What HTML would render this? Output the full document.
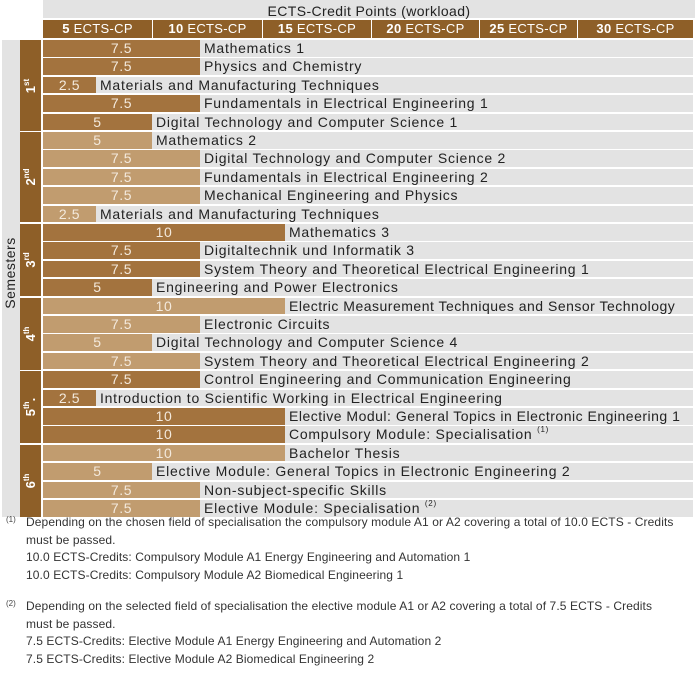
<!DOCTYPE html>
<html><head><meta charset="utf-8"><style>
body{margin:0;width:695px;height:674px;background:#fff;font-family:"Liberation Sans",sans-serif;position:relative;overflow:hidden}
.a{position:absolute}
.hd{position:absolute;top:20px;height:18px;background:#8e5f28;color:#fff;font-size:13px;line-height:18px;text-align:center;letter-spacing:0.3px}
.row{position:absolute;left:43px;width:650px;height:16.5px;background:#e3e3e3}
.bar{position:absolute;left:0;top:0;height:16.5px;color:#f3e9dc;font-size:14px;line-height:17px;text-align:center;letter-spacing:0.6px}
.d{background:#a3733e}.l{background:#c19c6f}
.t{position:absolute;top:0;height:16.5px;font-size:14px;line-height:17px;color:#222;letter-spacing:0.75px;white-space:nowrap}
.sem{position:absolute;left:20px;width:21px;background:#8e5f28}
.sl{position:absolute;left:-20px;width:61px;top:50%;transform:translateY(-50%) rotate(-90deg);color:#fff;font-weight:bold;font-size:13px;text-align:center}
.sl sup{font-size:8px}
.fn{position:absolute;left:26px;font-size:12px;color:#333;line-height:17.5px;letter-spacing:0.1px}
.fs{position:absolute;left:6px;font-size:8px;color:#444}
sup{font-size:8px;vertical-align:top;line-height:0;position:relative;top:4px}
</style></head><body>
<div class="a" style="left:43px;top:0;width:652px;height:18px;background:#e3e3e3;font-size:14px;line-height:22px;text-align:center;color:#222;letter-spacing:0.4px">ECTS-Credit Points (workload)</div>
<div class="hd" style="left:43px;width:109px"><b>5</b> ECTS-CP</div>
<div class="hd" style="left:153px;width:109px"><b>10</b> ECTS-CP</div>
<div class="hd" style="left:263px;width:108px"><b>15</b> ECTS-CP</div>
<div class="hd" style="left:372px;width:107px"><b>20</b> ECTS-CP</div>
<div class="hd" style="left:480px;width:97px"><b>25</b> ECTS-CP</div>
<div class="hd" style="left:578px;width:115px"><b>30</b> ECTS-CP</div>
<div class="a" style="left:2px;top:40px;width:18px;height:477px;background:#e3e3e3"></div>
<div class="a" style="left:-40px;top:265px;width:100px;text-align:center;transform:rotate(-90deg);font-size:14px;color:#222;letter-spacing:0.5px">Semesters</div>

<div class="sem" style="top:40px;height:91px"><div class="sl">1<sup>st</sup></div></div>
<div class="sem" style="top:132px;height:90px"><div class="sl">2<sup>nd</sup></div></div>
<div class="sem" style="top:224px;height:72px"><div class="sl">3<sup>rd</sup></div></div>
<div class="sem" style="top:298px;height:72px"><div class="sl">4<sup>th</sup></div></div>
<div class="sem" style="top:371px;height:72px"><div class="sl">5<sup>th</sup>.</div></div>
<div class="sem" style="top:445px;height:72px"><div class="sl">6<sup>th</sup></div></div>

<div class="row" style="top:40px"><div class="bar d" style="width:157px">7.5</div><div class="t" style="left:161px">Mathematics 1</div></div>
<div class="row" style="top:58.4px"><div class="bar d" style="width:157px">7.5</div><div class="t" style="left:161px">Physics and Chemistry</div></div>
<div class="row" style="top:76.8px"><div class="bar d" style="width:53px">2.5</div><div class="t" style="left:57px">Materials and Manufacturing Techniques</div></div>
<div class="row" style="top:95.2px"><div class="bar d" style="width:157px">7.5</div><div class="t" style="left:161px">Fundamentals in Electrical Engineering 1</div></div>
<div class="row" style="top:113.6px"><div class="bar d" style="width:109px">5</div><div class="t" style="left:113px">Digital Technology and Computer Science 1</div></div>

<div class="row" style="top:132px"><div class="bar l" style="width:109px">5</div><div class="t" style="left:113px">Mathematics 2</div></div>
<div class="row" style="top:150.4px"><div class="bar l" style="width:157px">7.5</div><div class="t" style="left:161px">Digital Technology and Computer Science 2</div></div>
<div class="row" style="top:168.8px"><div class="bar l" style="width:157px">7.5</div><div class="t" style="left:161px">Fundamentals in Electrical Engineering 2</div></div>
<div class="row" style="top:187.2px"><div class="bar l" style="width:157px">7.5</div><div class="t" style="left:161px">Mechanical Engineering and Physics</div></div>
<div class="row" style="top:205.6px"><div class="bar l" style="width:53px">2.5</div><div class="t" style="left:57px">Materials and Manufacturing Techniques</div></div>

<div class="row" style="top:224px"><div class="bar d" style="width:242px">10</div><div class="t" style="left:246px">Mathematics 3</div></div>
<div class="row" style="top:242.4px"><div class="bar d" style="width:157px">7.5</div><div class="t" style="left:161px">Digitaltechnik und Informatik 3</div></div>
<div class="row" style="top:260.8px"><div class="bar d" style="width:157px">7.5</div><div class="t" style="left:161px">System Theory and Theoretical Electrical Engineering 1</div></div>
<div class="row" style="top:279.2px"><div class="bar d" style="width:109px">5</div><div class="t" style="left:113px">Engineering and Power Electronics</div></div>

<div class="row" style="top:297.6px"><div class="bar l" style="width:242px">10</div><div class="t" style="left:246px;letter-spacing:0.5px">Electric Measurement Techniques and Sensor Technology</div></div>
<div class="row" style="top:316px"><div class="bar l" style="width:157px">7.5</div><div class="t" style="left:161px">Electronic Circuits</div></div>
<div class="row" style="top:334.4px"><div class="bar l" style="width:109px">5</div><div class="t" style="left:113px">Digital Technology and Computer Science 4</div></div>
<div class="row" style="top:352.8px"><div class="bar l" style="width:157px">7.5</div><div class="t" style="left:161px">System Theory and Theoretical Electrical Engineering 2</div></div>

<div class="row" style="top:371.2px"><div class="bar d" style="width:157px">7.5</div><div class="t" style="left:161px">Control Engineering and Communication Engineering</div></div>
<div class="row" style="top:389.6px"><div class="bar d" style="width:53px">2.5</div><div class="t" style="left:57px">Introduction to Scientific Working in Electrical Engineering</div></div>
<div class="row" style="top:408px"><div class="bar d" style="width:242px">10</div><div class="t" style="left:246px;letter-spacing:0.5px">Elective Modul: General Topics in Electronic Engineering 1</div></div>
<div class="row" style="top:426.4px"><div class="bar d" style="width:242px">10</div><div class="t" style="left:246px">Compulsory Module: Specialisation <sup>(1)</sup></div></div>

<div class="row" style="top:444.8px"><div class="bar l" style="width:242px">10</div><div class="t" style="left:246px">Bachelor Thesis</div></div>
<div class="row" style="top:463.2px"><div class="bar l" style="width:109px">5</div><div class="t" style="left:113px">Elective Module: General Topics in Electronic Engineering 2</div></div>
<div class="row" style="top:481.6px"><div class="bar l" style="width:157px">7.5</div><div class="t" style="left:161px">Non-subject-specific Skills</div></div>
<div class="row" style="top:500px"><div class="bar l" style="width:157px">7.5</div><div class="t" style="left:161px">Elective Module: Specialisation <sup>(2)</sup></div></div>

<div class="fs" style="top:515px">(1)</div>
<div class="fn" style="top:514px">Depending on the chosen field of specialisation the compulsory module A1 or A2 covering a total of 10.0 ECTS - Credits<br>must be passed.<br>10.0 ECTS-Credits: Compulsory Module A1 Energy Engineering and Automation 1<br>10.0 ECTS-Credits: Compulsory Module A2 Biomedical Engineering 1</div>
<div class="fs" style="top:599px">(2)</div>
<div class="fn" style="top:598px">Depending on the selected field of specialisation the elective module A1 or A2 covering a total of 7.5 ECTS - Credits<br>must be passed.<br>7.5 ECTS-Credits: Elective Module A1 Energy Engineering and Automation 2<br>7.5 ECTS-Credits: Elective Module A2 Biomedical Engineering 2</div>
</body></html>
